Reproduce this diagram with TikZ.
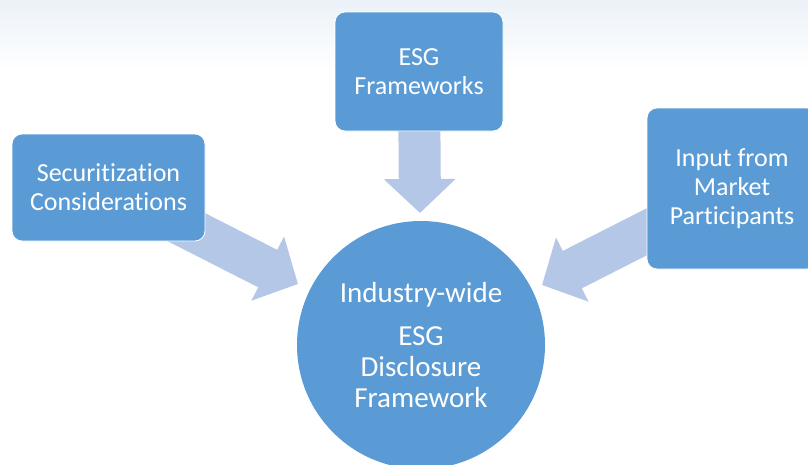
\documentclass[tikz,border=0pt]{standalone}
\usepackage{fontspec}
\setmainfont{Carlito}[Ligatures=NoCommon]
\usetikzlibrary{arrows.meta,backgrounds}
\definecolor{boxblue}{HTML}{5B9BD5}
\definecolor{arrowblue}{HTML}{B4C7E7}
\definecolor{lace}{HTML}{EBF2F8}
\begin{document}
\begin{tikzpicture}[x=1pt,y=-1pt,
  box/.style={rectangle,rounded corners=10pt,fill=boxblue,draw=white,line width=.8pt,
    text=white,align=center,font=\fontsize{26}{29}\selectfont},
  hubstyle/.style={circle,fill=boxblue,text=white,align=center,inner sep=0pt,
    font=\fontsize{29}{31}\selectfont},
  flow/.style={arrowblue,line width=42pt,-{Triangle[width=70pt,length=34pt]}}]
\useasboundingbox (0,0) rectangle (808,464);
\clip (0,0) rectangle (808,464);
\shade[top color=lace,bottom color=white] (0,0) rectangle (808,70);

\node[box,minimum width=168pt,minimum height=119pt] (frame) at (419,71.5) {ESG\\Frameworks};
\node[box,minimum width=193pt,minimum height=107pt] (secur) at (108.5,187.5) {Securitization\\Considerations};
\node[box,minimum width=170pt,minimum height=161pt] (input) at (732,188.5) {Input from\\Market\\Participants};
\node[hubstyle,minimum size=248pt] (hub) at (421,345) {Industry-wide\\[12pt]ESG\\Disclosure\\Framework};

\coordinate (tipT) at (420,213);
\coordinate (tipL) at (298,284);
\coordinate (tipR) at (542,285);

\begin{pgfonlayer}{background}
\draw[flow] (frame.center)--(tipT);
\draw[flow] (secur.center)--(tipL);
\draw[flow] (input.center)--(tipR);
\end{pgfonlayer}
\end{tikzpicture}
\end{document}
